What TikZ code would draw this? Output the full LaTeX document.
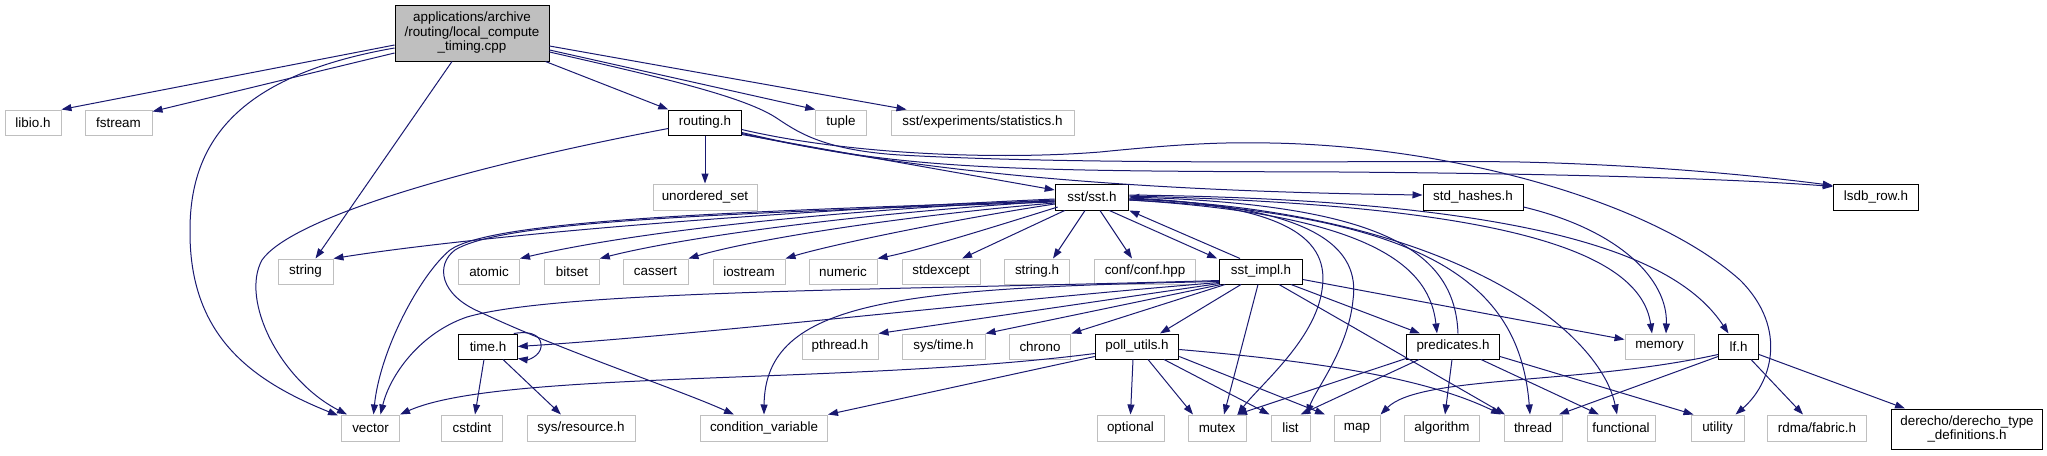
\documentclass[tikz,border=0pt]{standalone}
\usepackage{fontspec}
\setmainfont{Liberation Sans}
\usetikzlibrary{arrows.meta}
\definecolor{edgec}{HTML}{191970}
\definecolor{boxg}{HTML}{BFBFBF}
\begin{document}
\begin{tikzpicture}[x=1pt,y=-1pt,
  lbl/.style={font=\fontsize{13.4}{14.5}\selectfont},
  gb/.style={draw=boxg, line width=1pt, inner sep=0pt, minimum height=25pt, lbl, align=center},
  bb/.style={draw=black, line width=1pt, inner sep=0pt, minimum height=25pt, lbl, align=center},
  ed/.style={draw=edgec, line width=1pt, -{Triangle[length=10pt,width=7pt]}},
]
\useasboundingbox (0,0) rectangle (2047,455);
% row 0
\node[bb, fill=boxg, minimum width=154pt, minimum height=56pt] (main) at (472,33) {applications/archive\\/routing/local\_compute\\\_timing.cpp};
% row 1
\node[gb, minimum width=56pt] (libio) at (33,122.5) {libio.h};
\node[gb, minimum width=67pt] (fstream) at (118.5,122.5) {fstream};
\node[bb, minimum width=72.5pt] (routing) at (705,122.5) {routing.h};
\node[gb, minimum width=50.5pt] (tuple) at (841,122.5) {tuple};
\node[gb, minimum width=183pt] (stats) at (982.5,122.5) {sst/experiments/statistics.h};
% row 2
\node[gb, minimum width=104pt, minimum height=26pt] (unord) at (705,197) {unordered\_set};
\node[bb, minimum width=73.6pt, minimum height=26pt] (sst) at (1092,197) {sst/sst.h};
\node[bb, minimum width=100pt, minimum height=26pt] (stdhash) at (1473,197) {std\_hashes.h};
\node[bb, minimum width=85.5pt, minimum height=26pt] (lsdb) at (1876,197) {lsdb\_row.h};
% row 3
\node[gb, minimum width=55pt] (string) at (305.5,271.5) {string};
\node[gb, minimum width=61pt] (atomic) at (489,271.5) {atomic};
\node[gb, minimum width=54.5pt] (bitset) at (572,271.5) {bitset};
\node[gb, minimum width=65pt] (cassert) at (655.5,271.5) {cassert};
\node[gb, minimum width=72pt] (iostream) at (749,271.5) {iostream};
\node[gb, minimum width=68pt] (numeric) at (843,271.5) {numeric};
\node[gb, minimum width=78pt] (stdexcept) at (941,271.5) {stdexcept};
\node[gb, minimum width=65.5pt] (stringh) at (1037,271.5) {string.h};
\node[gb, minimum width=101pt] (conf) at (1145,271.5) {conf/conf.hpp};
\node[bb, minimum width=82.7pt] (impl) at (1261,271.5) {sst\_impl.h};
% row 4
\node[bb, minimum width=58.5pt] (time) at (488,346.5) {time.h};
\node[gb, minimum width=76pt] (pthread) at (840,346.5) {pthread.h};
\node[gb, minimum width=83pt] (systime) at (943.5,346.5) {sys/time.h};
\node[gb, minimum width=61.5pt] (chrono) at (1040,346.5) {chrono};
\node[bb, minimum width=83.5pt] (poll) at (1137,346.5) {poll\_utils.h};
\node[bb, minimum width=93pt] (pred) at (1453,346.5) {predicates.h};
\node[gb, minimum width=69pt] (memory) at (1659.5,346.5) {memory};
\node[bb, minimum width=40pt] (lf) at (1738.5,346.5) {lf.h};
% row 5
\node[gb, minimum width=58pt, minimum height=26pt] (vector) at (370.5,428) {vector};
\node[gb, minimum width=61pt, minimum height=26pt] (cstdint) at (472,428) {cstdint};
\node[gb, minimum width=108pt, minimum height=26pt] (sysres) at (581,428) {sys/resource.h};
\node[gb, minimum width=127pt, minimum height=26pt] (cond) at (764,428) {condition\_variable};
\node[gb, minimum width=67pt, minimum height=26pt] (optional) at (1130.5,428) {optional};
\node[gb, minimum width=58pt, minimum height=26pt] (mutex) at (1217,428) {mutex};
\node[gb, minimum width=39pt, minimum height=26pt] (list) at (1290.5,428) {list};
\node[gb, minimum width=46pt, minimum height=26pt] (map) at (1357,428) {map};
\node[gb, minimum width=74.5pt, minimum height=26pt] (algo) at (1442,428) {algorithm};
\node[gb, minimum width=58pt, minimum height=26pt] (thread) at (1533,428) {thread};
\node[gb, minimum width=68pt, minimum height=26pt] (functional) at (1621,428) {functional};
\node[gb, minimum width=53pt, minimum height=26pt] (utility) at (1717.5,428) {utility};
\node[gb, minimum width=99pt, minimum height=26pt] (rdma) at (1817,428) {rdma/fabric.h};
\node[bb, minimum width=151.6pt, minimum height=40pt] (der) at (1967,429) {derecho/derecho\_type\\\_definitions.h};

% ---- edges from main
\draw[ed] ([yshift=-12]main.west) -- (libio.north east);
\draw[ed] ([yshift=-20]main.west) -- ([yshift=-2]fstream.north east);
\draw[ed] ([yshift=-15]main.west) .. controls (240,75) and (190,140) .. (190,230) .. controls (189,335) and (250,380) .. ([xshift=-3,yshift=-1]vector.north west);
\draw[ed] ([xshift=-20]main.south) -- ([xshift=10]string.north);
\draw[ed] ([xshift=-4]main.south east) -- (routing.north west);
\draw[ed] ([yshift=-17]main.east) -- (tuple.north west);
\draw[ed] ([yshift=-13]main.east) -- ([xshift=16]stats.north west);
\draw[ed] ([yshift=-19]main.east) .. controls (650,75) and (740,95) .. (775,117) .. controls (795,130) and (820,150) .. (900,155) .. controls (1100,166) and (1400,160) .. (1520,162) .. controls (1650,165) and (1760,176) .. ([yshift=-2]lsdb.north west);
% ---- edges from routing.h
\draw[ed] (routing.south) -- (unord.north);
\draw[ed] ([yshift=-6]routing.west) .. controls (450,170) and (290,220) .. (262,260) .. controls (240,300) and (280,380) .. ([xshift=6]vector.north west);
\draw[ed] ([yshift=-12]routing.east) -- ([yshift=7]sst.west);
\draw[ed] ([yshift=-11]routing.east) .. controls (950,180) and (1200,192) .. ([yshift=2]stdhash.west);
\draw[ed] ([yshift=-10]routing.east) .. controls (900,170) and (1000,171) .. (1340,172) .. controls (1600,174) and (1750,180) .. ([yshift=-3]lsdb.north west);
\draw[ed] ([yshift=-7]routing.east) .. controls (850,155) and (1000,160) .. (1100,152) .. controls (1180,144) and (1220,142) .. (1270,143) .. controls (1450,146) and (1650,200) .. (1740,280) .. controls (1790,330) and (1770,385) .. ([xshift=18]utility.north);
% ---- edges from sst.h
\draw[ed] ([yshift=-2]sst.west) .. controls (700,215) and (450,240) .. (string.north east);
\draw[ed] ([yshift=-4]sst.west) .. controls (700,212) and (490,222) .. (450,250) .. controls (420,275) and (380,350) .. ([xshift=3]vector.north);
\draw[ed] ([yshift=-5]sst.west) .. controls (700,214) and (500,222) .. (455,250) .. controls (435,265) and (440,295) .. (480,312) .. controls (560,350) and (680,390) .. ([xshift=-30]cond.north);
\draw[ed] ([yshift=-3]sst.west) .. controls (800,212) and (620,235) .. (atomic.north east);
\draw[ed] ([yshift=-4]sst.west) .. controls (850,214) and (680,238) .. (bitset.north east);
\draw[ed] ([yshift=-6]sst.west) .. controls (900,216) and (750,240) .. (cassert.north east);
\draw[ed] ([yshift=-7]sst.west) .. controls (950,220) and (830,245) .. (iostream.north east);
\draw[ed] ([xshift=3,yshift=-10]sst.west) .. controls (1000,225) and (920,250) .. (numeric.north east);
\draw[ed] ([xshift=10]sst.south west) -- ([xshift=21]stdexcept.north);
\draw[ed] ([xshift=-7]sst.south) -- ([xshift=16]stringh.north);
\draw[ed] ([xshift=8]sst.south) -- ([xshift=-13]conf.north);
\draw[ed] ([xshift=-20]sst.south east) -- ([xshift=-2]impl.north west);
\draw[ed] ([yshift=-1]sst.east) .. controls (1290,205) and (1330,240) .. (1322,290) .. controls (1315,340) and (1260,385) .. ([xshift=20.5]mutex.north);
\draw[ed] ([yshift=-2]sst.east) .. controls (1320,205) and (1360,250) .. (1353,300) .. controls (1348,350) and (1315,390) .. ([xshift=16.5]list.north);
\draw[ed] ([yshift=-3]sst.east) .. controls (1380,215) and (1430,270) .. ([xshift=-16]pred.north);
\draw[ed] ([yshift=-3]sst.east) .. controls (1440,215) and (1520,290) .. ([xshift=-3]thread.north);
\draw[ed] ([yshift=-2]sst.east) .. controls (1450,210) and (1600,330) .. ([xshift=-4]functional.north);
\draw[ed] ([yshift=1]sst.east) .. controls (1500,205) and (1640,250) .. ([xshift=-7.5]memory.north);
\draw[ed] ([yshift=2]sst.east) .. controls (1550,200) and (1680,260) .. ([xshift=-10]lf.north);
% back edges to sst.h
\draw[ed] ([xshift=5]pred.north) .. controls (1455,250) and (1380,205) .. (sst.east);
\draw[ed] ([xshift=-21]impl.north) -- (sst.south east);
% ---- std_hashes
\draw[ed] ([yshift=-10]stdhash.east) .. controls (1620,230) and (1668,280) .. ([xshift=6.5]memory.north);
% ---- sst_impl.h
\draw[ed] ([yshift=4]impl.south west) .. controls (900,290) and (560,290) .. (467,317) .. controls (420,333) and (390,375) .. ([xshift=10]vector.north);
\draw[ed] ([yshift=3]impl.south west) .. controls (900,288) and (765,300) .. (cond.north);
\draw[ed] ([yshift=2]impl.south west) .. controls (1000,300) and (700,335) .. (time.east);
\draw[ed] ([yshift=1]impl.south west) -- (pthread.north east);
\draw[ed] ([xshift=2]impl.south west) -- (systime.north east);
\draw[ed] ([xshift=6]impl.south west) -- (chrono.north east);
\draw[ed] ([xshift=-20]impl.south) -- ([xshift=23]poll.north);
\draw[ed] ([xshift=-3]impl.south) -- ([xshift=7]mutex.north);
\draw[ed] ([xshift=18]impl.south) -- ([xshift=-28]thread.north);
\draw[ed] ([xshift=30]impl.south) -- ([xshift=-33]pred.north);
\draw[ed] ([yshift=-8]impl.east) -- ([yshift=-6]memory.north west);
% ---- time.h
\draw[ed] ([xshift=-4]time.north east) .. controls (535,330) and (542,338) .. (541,347) .. controls (540,356) and (528,360) .. ([yshift=1]time.south east);
\draw[ed] ([xshift=-4]time.south) -- ([xshift=3]cstdint.north);
\draw[ed] ([xshift=15]time.south) -- ([xshift=-20]sysres.north);
% ---- poll_utils.h
\draw[ed] ([yshift=-7]poll.west) .. controls (850,385) and (500,370) .. (vector.north east);
\draw[ed] ([yshift=-10]poll.west) -- (cond.north east);
\draw[ed] ([xshift=-4]poll.south) -- (optional.north);
\draw[ed] ([xshift=11]poll.south) -- ([xshift=-24]mutex.north);
\draw[ed] ([xshift=27]poll.south) -- ([xshift=-21]list.north);
\draw[ed] ([yshift=-10]poll.east) -- ([xshift=-32]map.north);
\draw[ed] ([yshift=-3]poll.east) .. controls (1300,360) and (1420,375) .. ([xshift=-32]thread.north);
% ---- predicates.h
\draw[ed] ([yshift=1]pred.south west) -- ([xshift=20]mutex.north);
\draw[ed] ([xshift=13]pred.south west) -- ([xshift=10]list.north);
\draw[ed] ([xshift=-1]pred.south) -- ([xshift=3]algo.north);
\draw[ed] ([xshift=28]pred.south) -- ([xshift=-22]functional.north);
\draw[ed] ([yshift=-10]pred.east) -- ([xshift=-24]utility.north);
% ---- lf.h
\draw[ed] ([yshift=-8]lf.west) .. controls (1580,385) and (1420,375) .. (map.north east);
\draw[ed] ([yshift=-10]lf.west) -- ([xshift=26]thread.north);
\draw[ed] ([xshift=12.5]lf.south) -- ([xshift=-14]rdma.north);
\draw[ed] ([yshift=-8]lf.east) -- ([xshift=-62]der.north);
\end{tikzpicture}
\end{document}
